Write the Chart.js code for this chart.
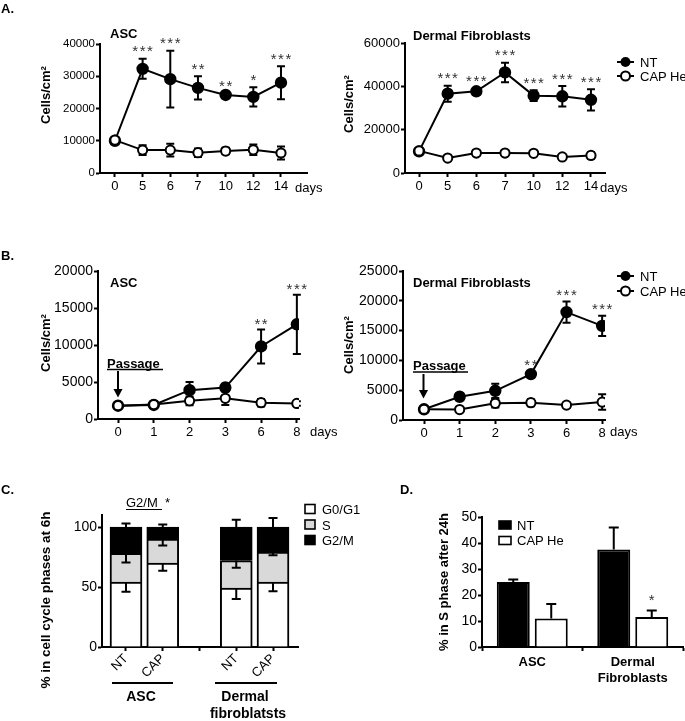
<!DOCTYPE html>
<html><head><meta charset="utf-8">
<script src="https://cdn.jsdelivr.net/npm/chart.js@4.4.1/dist/chart.umd.min.js"></script>
<style>
html,body{margin:0;padding:0;background:#fff;}
body{width:685px;height:721px;position:relative;overflow:hidden;}
canvas{position:absolute;}
#ov{position:absolute;left:0;top:0;pointer-events:none;}
</style></head><body>
<canvas id="cA1"></canvas><canvas id="cA2"></canvas>
<canvas id="cB1"></canvas><canvas id="cB2"></canvas>
<canvas id="cC"></canvas><canvas id="cD"></canvas>
<svg id="ov" width="685" height="721" font-family="Liberation Sans, Arial, sans-serif" fill="#000">
  <!-- panel letters -->
  <text x="1" y="13" font-weight="bold" font-size="13">A.</text>
  <text x="1" y="260" font-weight="bold" font-size="13">B.</text>
  <text x="1" y="494" font-weight="bold" font-size="13">C.</text>
  <text x="400" y="494" font-weight="bold" font-size="13">D.</text>
  <!-- A titles -->
  <text x="110" y="38" font-weight="bold" font-size="13">ASC</text>
  <text x="413" y="40" font-weight="bold" font-size="13">Dermal Fibroblasts</text>
  <text transform="translate(49.5,95) rotate(-90)" text-anchor="middle" font-weight="bold" font-size="13">Cells/cm²</text>
  <text transform="translate(352.5,104) rotate(-90)" text-anchor="middle" font-weight="bold" font-size="13">Cells/cm²</text>
  <text x="295" y="192" font-size="13">days</text>
  <text x="600" y="192" font-size="13">days</text>
  <!-- A legend -->
  <line x1="617" y1="62" x2="634" y2="62" stroke="#000" stroke-width="2"/>
  <circle cx="625.5" cy="62" r="5" fill="#000"/>
  <text x="640" y="66.5" font-size="13">NT</text>
  <line x1="617" y1="76" x2="634" y2="76" stroke="#000" stroke-width="2"/>
  <circle cx="625.5" cy="76" r="4.5" fill="#fff" stroke="#000" stroke-width="2"/>
  <text x="640" y="81" font-size="13">CAP He</text>
  <!-- B titles -->
  <text x="110" y="287" font-weight="bold" font-size="13">ASC</text>
  <text x="413" y="287" font-weight="bold" font-size="13">Dermal Fibroblasts</text>
  <text transform="translate(49.5,343) rotate(-90)" text-anchor="middle" font-weight="bold" font-size="13">Cells/cm²</text>
  <text transform="translate(352.5,345) rotate(-90)" text-anchor="middle" font-weight="bold" font-size="13">Cells/cm²</text>
  <text x="310" y="436" font-size="13">days</text>
  <text x="610" y="436" font-size="13">days</text>
  <!-- B legend -->
  <line x1="617" y1="276" x2="634" y2="276" stroke="#000" stroke-width="2"/>
  <circle cx="625.5" cy="276" r="5" fill="#000"/>
  <text x="640" y="280.5" font-size="13">NT</text>
  <line x1="617" y1="291" x2="634" y2="291" stroke="#000" stroke-width="2"/>
  <circle cx="625.5" cy="291" r="4.5" fill="#fff" stroke="#000" stroke-width="2"/>
  <text x="640" y="295.5" font-size="13">CAP He</text>
  <!-- Passage annotations -->
  <text x="107" y="367.5" font-weight="bold" font-size="13">Passage</text>
  <line x1="107" y1="369.5" x2="163" y2="369.5" stroke="#000" stroke-width="1.5"/>
  <line x1="118" y1="371" x2="118" y2="390" stroke="#000" stroke-width="2"/>
  <polygon points="113.5,389 122.5,389 118,397.5" fill="#000"/>
  <text x="413" y="369.5" font-weight="bold" font-size="13">Passage</text>
  <line x1="413" y1="372" x2="468" y2="372" stroke="#000" stroke-width="1.5"/>
  <line x1="423.5" y1="374" x2="423.5" y2="391" stroke="#000" stroke-width="2"/>
  <polygon points="419,390 428,390 423.5,398.5" fill="#000"/>
  <!-- C annotations -->
  <text transform="translate(49.5,600) rotate(-90)" text-anchor="middle" font-weight="bold" font-size="13.5">% in cell cycle phases at 6h</text>
  <text x="126" y="507" font-size="13">G2/M</text>
  <line x1="126" y1="509.5" x2="162" y2="509.5" stroke="#000" stroke-width="1.2"/>
  <text x="165" y="507" font-size="13">*</text>
  <rect x="305" y="504.5" width="10" height="9" fill="#fff" stroke="#000" stroke-width="1.6"/>
  <rect x="305" y="520" width="10" height="9" fill="#d9d9d9" stroke="#000" stroke-width="1.6"/>
  <rect x="305" y="535.5" width="10" height="9" fill="#000" stroke="#000" stroke-width="1.6"/>
  <text x="322" y="514" font-size="13">G0/G1</text>
  <text x="322" y="529.5" font-size="13">S</text>
  <text x="322" y="545" font-size="13">G2/M</text>
  <line x1="112" y1="683" x2="173" y2="683" stroke="#000" stroke-width="2"/>
  <line x1="215" y1="683" x2="277" y2="683" stroke="#000" stroke-width="2"/>
  <text x="141" y="701" text-anchor="middle" font-weight="bold" font-size="14">ASC</text>
  <text x="245" y="701" text-anchor="middle" font-weight="bold" font-size="14">Dermal</text>
  <text x="248" y="718" text-anchor="middle" font-weight="bold" font-size="14">fibroblatsts</text>
  <!-- D annotations -->
  <text transform="translate(447.5,582) rotate(-90)" text-anchor="middle" font-weight="bold" font-size="13">% in S phase after 24h</text>
  <rect x="499" y="521" width="12" height="8" fill="#000" stroke="#000" stroke-width="1.6"/>
  <rect x="499" y="536.5" width="12" height="8" fill="#fff" stroke="#000" stroke-width="1.6"/>
  <text x="517" y="529.5" font-size="13">NT</text>
  <text x="517" y="545" font-size="13">CAP He</text>
</svg>
<script>
// ---------------- DATA ----------------
// Panel A: growth over 14 days
const daysA = ['0', '5', '6', '7', '10', '12', '14'];
const ascA_NT = [10000, 32300, 29100, 26400, 24200, 23600, 28000];
const ascA_NT_sd = [0, 3100, 8800, 3600, 600, 3000, 5100];
const ascA_CAP = [10200, 7100, 7100, 6300, 6800, 7200, 6200];
const ascA_CAP_sd = [300, 1500, 2000, 1300, 1000, 1600, 2000];
const ascA_sig = ['', '***', '***', '**', '**', '*', '***'];

const dfA_NT = [10000, 36600, 37700, 46400, 35700, 35400, 33800];
const dfA_NT_sd = [0, 3700, 1500, 4500, 2500, 4700, 4900];
const dfA_CAP = [10200, 6900, 9200, 9200, 9100, 7400, 8100];
const dfA_CAP_sd = [300, 1000, 1000, 800, 800, 800, 1500];
const dfA_sig = ['', '***', '***', '***', '***', '***', '***'];

// Panel B: after passage
const daysB = ['0', '1', '2', '3', '6', '8'];
const ascB_NT = [1800, 1900, 3900, 4250, 9800, 12800];
const ascB_NT_sd = [0, 300, 1100, 500, 2300, 4000];
const ascB_CAP = [1800, 1950, 2450, 2800, 2200, 2100];
const ascB_CAP_sd = [200, 400, 600, 900, 500, 300];
const ascB_sig = ['', '', '', '', '**', '***'];

const dfB_NT = [1800, 3900, 4900, 7700, 18100, 15800];
const dfB_NT_sd = [0, 200, 1200, 400, 1800, 1700];
const dfB_CAP = [1800, 1750, 2800, 2900, 2500, 3000];
const dfB_CAP_sd = [200, 200, 700, 600, 400, 1300];
const dfB_sig = ['', '', '', '**', '***', '***'];

// Panel C: cell-cycle phases at 6h (stacked %)
const cCats = ['NT', 'CAP', 'NT', 'CAP'];
const cSlots = [0, 1, 3, 4];
const cG0G1 = [54, 70, 49, 54];
const cG0G1_sd = [8, 6.5, 9, 7.5];
const cS = [24, 20, 23, 25];
const cS_sd = [7.5, 5.5, 6, 2.5];
const cG2M = [22, 10, 28, 21];
const cG2M_sd = [3, 2, 6, 7.5];

// Panel D: % in S phase after 24h
const dCats = ['ASC', ['Dermal', 'Fibroblasts']];
const dNT = [25, 37.5];
const dNT_sd = [1, 8.5];
const dCAP = [11, 11.5];
const dCAP_sd = [5.5, 2.5];
const dCAP_sig = ['', '*'];

// ---------------- HELPERS ----------------
const FF = "'Liberation Sans', Arial, sans-serif";

const errPlugin = {
  id: 'errbars',
  beforeDatasetsDraw(chart) { drawErr(chart, false); },
  afterDatasetsDraw(chart) { drawErr(chart, true); drawSig(chart); }
};
function drawErr(chart, after) {
  const ctx = chart.ctx, ys = chart.scales.y;
  chart.data.datasets.forEach((ds, di) => {
    if (!ds.errors || (!!ds.errOnTop) !== after) return;
    const meta = chart.getDatasetMeta(di);
    ctx.save();
    ctx.strokeStyle = '#000'; ctx.lineWidth = 2; ctx.lineCap = 'butt';
    meta.data.forEach((el, i) => {
      const e = ds.errors[i];
      if (!e) return;
      const v = ys.getValueForPixel(el.y);
      const dir = ds.errDir || 'both';
      const hi = ys.getPixelForValue(v + e), lo = ys.getPixelForValue(v - e);
      const y1 = dir === 'down' ? el.y : hi;
      const y2 = dir === 'up' ? el.y : lo;
      const cw = ds.capW || 4;
      ctx.beginPath();
      ctx.moveTo(el.x, y1); ctx.lineTo(el.x, y2);
      if (dir !== 'down') { ctx.moveTo(el.x - cw, hi); ctx.lineTo(el.x + cw, hi); }
      if (dir !== 'up') { ctx.moveTo(el.x - cw, lo); ctx.lineTo(el.x + cw, lo); }
      ctx.stroke();
    });
    ctx.restore();
  });
}
function drawSig(chart) {
  const ctx = chart.ctx, ys = chart.scales.y;
  const gap = (chart.options.plugins.sigGap) || 11;
  chart.data.datasets.forEach((ds, di) => {
    if (!ds.sig) return;
    const meta = chart.getDatasetMeta(di);
    ctx.save();
    ctx.fillStyle = '#333';
    ctx.font = '15px ' + FF;
    ctx.textAlign = 'center';
    ctx.textBaseline = 'alphabetic';
    const hasLS = ('letterSpacing' in ctx);
    if (hasLS) ctx.letterSpacing = '1.5px';
    meta.data.forEach((el, i) => {
      const s = ds.sig[i];
      if (!s) return;
      const v = ys.getValueForPixel(el.y);
      const top = ys.getPixelForValue(v + ((ds.errors && ds.errors[i]) || 0));
      const txt = hasLS ? s : s.split('').join('\u2009');
      ctx.fillText(txt, el.x + (hasLS ? 0.75 : 0), top - gap + 8.5);
    });
    ctx.restore();
  });
}
function pts(vals) { return vals.map((v, i) => ({ x: i, y: v })); }
function lineDS(label, vals, errs, sig, filled) {
  return {
    label, data: pts(vals), errors: errs, sig: sig,
    borderColor: '#000', borderWidth: 2,
    backgroundColor: filled ? '#000' : '#fff',
    pointBackgroundColor: filled ? '#000' : '#fff',
    pointBorderColor: '#000', pointBorderWidth: 2,
    pointRadius: filled ? 5.2 : 4.6, tension: 0, fill: false
  };
}
function zero(s) { s.paddingLeft = 0; s.paddingRight = 0; s.paddingTop = 0; s.paddingBottom = 0; }
function baseAxis() {
  return {
    offset: false,
    grid: { display: true, offset: false, drawOnChartArea: false, drawTicks: true, tickLength: 4, tickWidth: 2, tickColor: '#000' },
    border: { display: true, color: '#000', width: 2 },
    ticks: { color: '#000', font: { family: FF, size: 13 }, padding: 1, autoSkip: false, maxRotation: 0, minRotation: 0 }
  };
}
function yAxis(max, step, fs) {
  const a = baseAxis();
  a.type = 'linear'; a.min = 0; a.max = max;
  a.afterBuildTicks = (s) => { const t = []; for (let v = 0; v <= max + 1e-9; v += step) t.push({ value: v }); s.ticks = t; };
  a.ticks.callback = (v) => String(v);
  if (fs) a.ticks.font = { family: FF, size: fs };
  return a;
}
function xIdxAxis(min, max, labels, slots) {
  const a = baseAxis();
  a.type = 'linear'; a.min = min; a.max = max;
  const sl = slots || labels.map((_, i) => i);
  a.afterBuildTicks = (s) => { s.ticks = sl.map(v => ({ value: v })); };
  a.ticks.callback = (v) => { const k = sl.indexOf(v); return k >= 0 && labels[k] !== undefined ? labels[k] : ''; };
  a.ticks.padding = 2;
  return a;
}
function make(id, box, plot, cfg) {
  const c = document.getElementById(id);
  c.width = box.w; c.height = box.h;
  Object.assign(c.style, { left: box.l + 'px', top: box.t + 'px', width: box.w + 'px', height: box.h + 'px' });
  const o = cfg.options;
  o.responsive = false; o.animation = false; o.devicePixelRatio = 1;
  o.layout = { padding: { left: 0, top: plot.t - box.t, right: box.l + box.w - plot.r, bottom: 0 } };
  const yw = plot.l - box.l, xh = box.t + box.h - plot.b;
  o.scales.x.afterFit = (s) => { s.height = xh; zero(s); };
  o.scales.y.afterFit = (s) => { s.width = yw; zero(s); };
  o.plugins = Object.assign({ legend: { display: false }, tooltip: { enabled: false }, title: { display: false } }, o.plugins || {});
  cfg.plugins = [errPlugin];
  return new Chart(c, cfg);
}

// ---------------- CHARTS ----------------
// A left: ASC
make('cA1', { l: 0, t: 0, w: 340, h: 200 }, { l: 100, t: 44, r: 307, b: 173 }, {
  type: 'line',
  data: { datasets: [
    lineDS('CAP He', ascA_CAP, ascA_CAP_sd, null, false),
    lineDS('NT', ascA_NT, ascA_NT_sd, ascA_sig, true)
  ] },
  options: { plugins: { sigGap: 11 }, scales: { x: xIdxAxis(-0.54, 6.94, daysA), y: yAxis(40000, 10000, 11.5) } }
});
// A right: Dermal Fibroblasts
make('cA2', { l: 340, t: 0, w: 345, h: 200 }, { l: 405, t: 43, r: 605, b: 173 }, {
  type: 'line',
  data: { datasets: [
    lineDS('CAP He', dfA_CAP, dfA_CAP_sd, null, false),
    lineDS('NT', dfA_NT, dfA_NT_sd, dfA_sig, true)
  ] },
  options: { plugins: { sigGap: 11 }, scales: { x: xIdxAxis(-0.49, 6.49, daysA), y: yAxis(60000, 20000) } }
});
// B left: ASC after passage
make('cB1', { l: 0, t: 200, w: 340, h: 245 }, { l: 98, t: 271, r: 299, b: 419 }, {
  type: 'line',
  data: { datasets: [
    lineDS('CAP He', ascB_CAP, ascB_CAP_sd, null, false),
    lineDS('NT', ascB_NT, ascB_NT_sd, ascB_sig, true)
  ] },
  options: { plugins: { sigGap: 9 }, scales: { x: xIdxAxis(-0.56, 5.06, daysB), y: yAxis(20000, 5000, 14) } }
});
// B right: Dermal Fibroblasts after passage
make('cB2', { l: 340, t: 200, w: 345, h: 245 }, { l: 403, t: 271, r: 605, b: 420 }, {
  type: 'line',
  data: { datasets: [
    lineDS('CAP He', dfB_CAP, dfB_CAP_sd, null, false),
    lineDS('NT', dfB_NT, dfB_NT_sd, dfB_sig, true)
  ] },
  options: { plugins: { sigGap: 10 }, scales: { x: xIdxAxis(-0.59, 5.08, daysB), y: yAxis(25000, 5000, 14) } }
});
// C: stacked cell-cycle bars
function barPts(vals) { return vals.map((v, i) => ({ x: cSlots[i], y: v })); }
function cDS(label, vals, sd, color, dir) {
  return { label, data: barPts(vals), errors: sd, errDir: dir, errOnTop: true, stack: 's',
    backgroundColor: color, borderColor: '#000', borderWidth: 2, barThickness: 32, capW: 4.5 };
}
const cx = xIdxAxis(-0.653, 4.68, cCats, cSlots);
cx.afterBuildTicks = (s) => { s.ticks = [0, 1, 2, 3, 4].map(v => ({ value: v })); };
cx.ticks.maxRotation = 45; cx.ticks.minRotation = 45; cx.ticks.padding = 0;
const cy = yAxis(110, 50, 14);
cy.afterBuildTicks = (s) => { s.ticks = [0, 50, 100].map(v => ({ value: v })); };
cy.stacked = true;
make('cC', { l: 0, t: 445, w: 340, h: 276 }, { l: 102, t: 515, r: 298, b: 647 }, {
  type: 'bar',
  data: { datasets: [
    cDS('G0/G1', cG0G1, cG0G1_sd, '#ffffff', 'down'),
    cDS('S', cS, cS_sd, '#d9d9d9', 'down'),
    cDS('G2/M', cG2M, cG2M_sd, '#000000', 'up')
  ] },
  options: { scales: { x: cx, y: cy } }
});
// D: % in S phase after 24h
const dx = baseAxis();
dx.type = 'category'; dx.offset = true; dx.grid.offset = true;
dx.ticks.font = { family: FF, size: 13, weight: 'bold', lineHeight: 1.25 };
dx.ticks.padding = 3;
const dy = yAxis(50, 10, 14);
make('cD', { l: 340, t: 445, w: 345, h: 276 }, { l: 482, t: 517, r: 683, b: 647 }, {
  type: 'bar',
  data: { labels: dCats, datasets: [
    { label: 'NT', data: dNT, errors: dNT_sd, errDir: 'up', errOnTop: true, backgroundColor: '#000', borderColor: '#000',
      borderWidth: 2, barPercentage: 0.868, categoryPercentage: 0.756, capW: 5 },
    { label: 'CAP He', data: dCAP, errors: dCAP_sd, errDir: 'up', errOnTop: true, sig: dCAP_sig, backgroundColor: '#fff', borderColor: '#000',
      borderWidth: 2, barPercentage: 0.868, categoryPercentage: 0.756, capW: 5 }
  ] },
  options: { plugins: { sigGap: 14 }, scales: { x: dx, y: dy } }
});
</script>
</body></html>
